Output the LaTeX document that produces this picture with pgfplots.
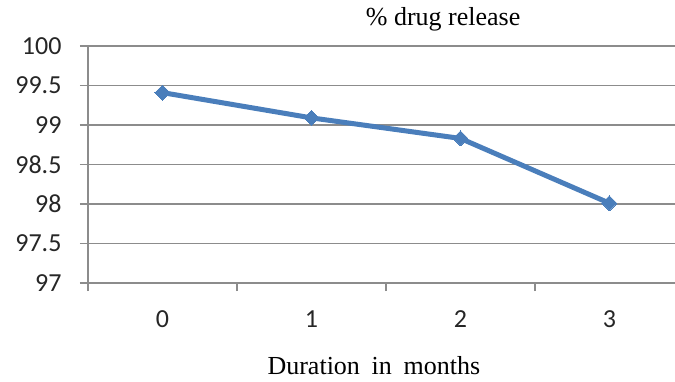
\documentclass[border=0pt]{standalone}
\usepackage{pgfplots}
\pgfplotsset{compat=1.18}
\usepackage{fontspec}
\setmainfont{Liberation Serif}
\newfontfamily\carlito{Carlito}
\definecolor{seriesblue}{RGB}{74,126,187}
\definecolor{gridgray}{RGB}{140,140,140}
\begin{document}
\begin{tikzpicture}
\useasboundingbox (0,0) rectangle (675pt,381pt);
\clip (0,0) rectangle (675pt,381pt);
\begin{axis}[
  at={(88pt,98pt)}, anchor=south west,
  scale only axis,
  width=587pt, height=237pt,
  xmin=-0.5, xmax=3.44,
  ymin=97, ymax=100,
  ytick={97,97.5,...,100},
  xtick={-0.5,0.5,1.5,2.5},
  xticklabels={},
  extra x ticks={0,1,2,3},
  extra x tick labels={0,1,2,3},
  extra x tick style={major tick length=0pt, grid=none,
    xticklabel style={yshift=-24pt}},
  axis x line*=bottom, axis y line*=left,
  axis line style={gridgray, line width=1.3pt, -},
  tick style={gridgray, line width=1.3pt},
  major tick length=8pt,
  tick align=outside,
  ymajorgrids,
  grid style={gridgray, line width=1.3pt},
  /pgf/number format/assume math mode=true,
  ticklabel style={font=\carlito\fontsize{26}{26}\selectfont, text=black!85},
  yticklabel style={xshift=-15pt},
  title={\% drug release},
  title style={at={(axis description cs:0.605,1.063)}, anchor=base,
    font=\fontsize{26}{26}\selectfont},
  xlabel={Duration\hspace{0.2em} in\hspace{0.2em} months},
  xlabel style={at={(axis description cs:0.487,-0.388)}, anchor=base,
    font=\fontsize{26}{26}\selectfont},
]
\addplot[color=seriesblue, line width=5pt, mark=square*, mark size=5.3pt,
  mark options={solid, rotate=45, line width=0pt, fill=seriesblue}]
  coordinates {(0,99.41) (1,99.09) (2,98.83) (3,98.01)};
\end{axis}
\end{tikzpicture}
\end{document}
